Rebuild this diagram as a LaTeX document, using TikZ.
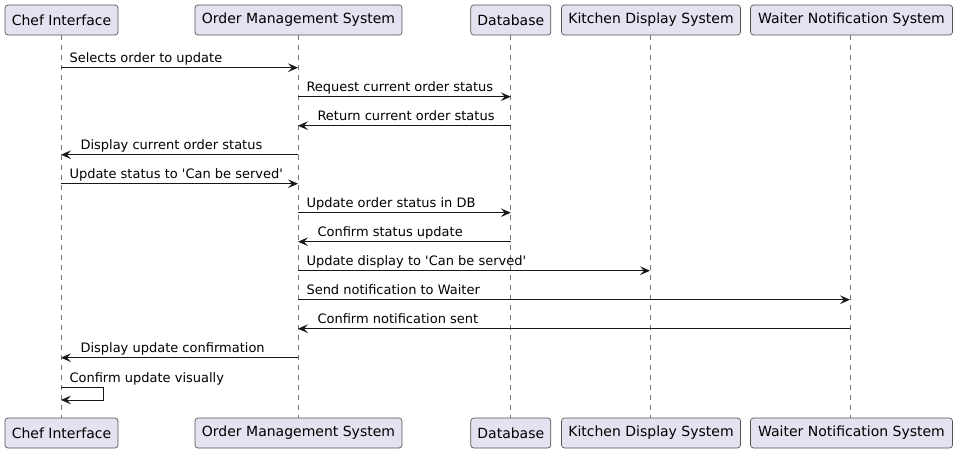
\documentclass[tikz,border=0pt]{standalone}
\usepackage{fontspec}
\setmainfont{DejaVu Sans}[Ligatures=TeXOff]
\usetikzlibrary{arrows.meta}
\definecolor{boxfill}{HTML}{E2E2F0}
\definecolor{ink}{HTML}{181818}
\begin{document}
\begin{tikzpicture}[x=0.75pt,y=-0.75pt,
  part/.style={draw=ink!75, line width=0.5pt, fill=boxfill, rounded corners=2.25pt,
    minimum height=22.5pt, inner sep=0pt, font=\fontsize{10.5pt}{12pt}\selectfont, text=black},
  life/.style={draw=ink!60, line width=0.5pt, dash pattern=on 3.75pt off 3.75pt},
  msg/.style={draw=ink, line width=0.75pt, -{Stealth[length=7.5pt,width=6.5pt,inset=3pt]}},
  lbl/.style={anchor=base west, inner sep=0pt,
    font=\fontsize{9.75pt}{11pt}\selectfont, text=black},
  lblr/.style={lbl, pos=0, xshift=6pt, yshift=3.75pt},
  lbll/.style={lbl, pos=1, xshift=14.25pt, yshift=3.75pt}]
\useasboundingbox (0,0) rectangle (957,453);
% top participants
\node[part, minimum width=84.75pt]  (chefT) at (61.5,20) {Chef Interface};
\node[part, minimum width=155.25pt] (omsT)  at (298.5,20) {Order Management System};
\node[part, minimum width=60pt]     (dbT)   at (510.8,20) {Database};
\node[part, minimum width=134.25pt] (kdsT)  at (651,20) {Kitchen Display System};
\node[part, minimum width=151.5pt]  (wnsT)  at (851.5,20) {Waiter Notification System};
% bottom participants
\node[part, minimum width=84.75pt]  (chefB) at (61.5,433) {Chef Interface};
\node[part, minimum width=155.25pt] (omsB)  at (298.5,433) {Order Management System};
\node[part, minimum width=60pt]     (dbB)   at (510.8,433) {Database};
\node[part, minimum width=134.25pt] (kdsB)  at (651,433) {Kitchen Display System};
\node[part, minimum width=151.5pt]  (wnsB)  at (851.5,433) {Waiter Notification System};
% lifelines
\draw[life] ([xshift=-0.375pt]chefT.south) -- ([xshift=-0.375pt]chefB.north);
\draw[life] ([xshift=-0.375pt]omsT.south) -- ([xshift=-0.375pt]omsB.north);
\draw[life] (dbT.south) -- (dbB.north);
\draw[life] ([xshift=-0.75pt]kdsT.south) -- ([xshift=-0.75pt]kdsB.north);
\draw[life] ([xshift=-1.125pt]wnsT.south) -- ([xshift=-1.125pt]wnsB.north);
% coordinates of lifelines
\coordinate (C) at (61,0);
\coordinate (O) at (298,0);
\coordinate (D) at (510.8,0);
\coordinate (K) at (650,0);
\coordinate (W) at (850,0);
% messages
\draw[msg] (C |- 0,67.7) -- node[lblr]{Selects order to update} (O |- 0,67.7);
\draw[msg] (O |- 0,96.7) -- node[lblr]{Request current order status} (D |- 0,96.7);
\draw[msg] (D |- 0,125.7) -- node[lbll]{Return current order status} (O |- 0,125.7);
\draw[msg] (O |- 0,154.7) -- node[lbll]{Display current order status} (C |- 0,154.7);
\draw[msg] (C |- 0,183.7) -- node[lblr]{Update status to 'Can be served'} (O |- 0,183.7);
\draw[msg] (O |- 0,212.7) -- node[lblr]{Update order status in DB} (D |- 0,212.7);
\draw[msg] (D |- 0,241.7) -- node[lbll]{Confirm status update} (O |- 0,241.7);
\draw[msg] (O |- 0,270.7) -- node[lblr]{Update display to 'Can be served'} (K |- 0,270.7);
\draw[msg] (O |- 0,299.7) -- node[lblr]{Send notification to Waiter} (W |- 0,299.7);
\draw[msg] (W |- 0,328.7) -- node[lbll]{Confirm notification sent} (O |- 0,328.7);
\draw[msg] (O |- 0,357.7) -- node[lbll]{Display update confirmation} (C |- 0,357.7);
\coordinate (S1) at (103,387.7);
\coordinate (S2) at (103,400);
\draw[msg] (C |- S1) -- node[lblr]{Confirm update visually} (S1) -- (S2) -- (C |- S2);
\end{tikzpicture}
\end{document}
